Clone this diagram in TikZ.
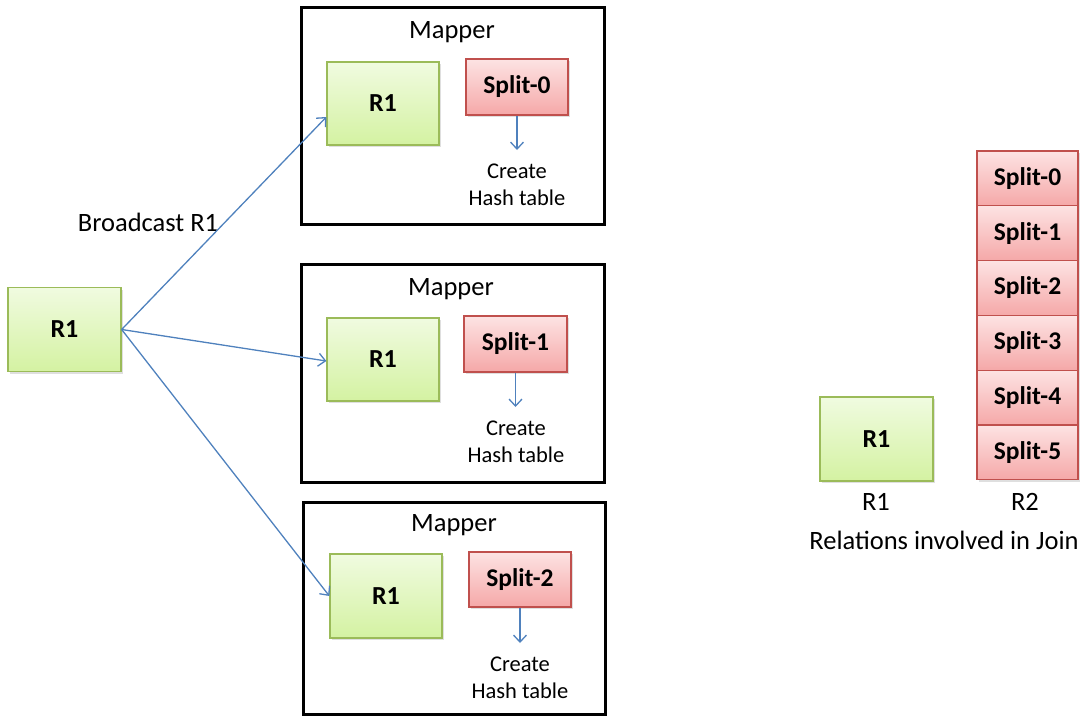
\documentclass[tikz,border=0pt]{standalone}
\usepackage{fontspec}
\setmainfont{Carlito}
\usetikzlibrary{arrows.meta,shadows,positioning}
\definecolor{gborder}{HTML}{9BBB59}
\definecolor{gtop}{HTML}{F0FBE0}
\definecolor{gbot}{HTML}{D4F2A2}
\definecolor{rborder}{HTML}{C0504D}
\definecolor{rtop}{HTML}{FDE3E3}
\definecolor{rbot}{HTML}{F5A8A8}
\definecolor{ablue}{HTML}{4F81BD}
\tikzset{
  x=1pt, y=-1pt,
  greenbox/.style={draw=gborder, line width=1.3pt, top color=gtop, bottom color=gbot,
    font=\bfseries\fontsize{26}{28}\selectfont, inner sep=0pt,
    drop shadow={shadow xshift=1.5pt, shadow yshift=-2pt, opacity=0.25}},
  redbox/.style={draw=rborder, line width=1.3pt, top color=rtop, bottom color=rbot,
    font=\bfseries\fontsize{25.5}{27}\selectfont, inner sep=0pt,
    drop shadow={shadow xshift=1.5pt, shadow yshift=-2pt, opacity=0.25}},
  mapperbox/.style={draw=black, line width=3pt},
  lbl/.style={font=\fontsize{26.5}{28}\selectfont, inner sep=0pt},
  small/.style={font=\fontsize{22.5}{27}\selectfont, align=center, inner sep=0pt},
  conn/.style={draw=ablue, line width=1.3pt, -{Straight Barb[length=7pt,width=13pt,line width=1.3pt]}},
}
\begin{document}
\begin{tikzpicture}
\useasboundingbox (0,0) rectangle (1086,717);
% left source
\node[greenbox, minimum width=113pt, minimum height=84pt] (src) at (64.5,329.5) {R1};
\node[lbl] (bc) at (148,222) {Broadcast R1};

% mapper 1
\node[mapperbox, minimum width=303pt, minimum height=216pt] (m1) at (452.5,116) {};
\node[lbl] (m1t) at (452,32) {Mapper};
\node[greenbox, minimum width=112pt, minimum height=83pt] (r1a) at (383,103.5) {R1};
\node[redbox, minimum width=102pt, minimum height=56pt] (s0) at (517,87) {Split-0};
\node[small] (h1) at (517,184.5) {Create\\Hash table};
\coordinate (h1n) at (517,150);
\draw[conn] (s0.south) -- (h1n);

% mapper 2
\node[mapperbox, minimum width=303pt, minimum height=218pt] (m2) at (452.5,373) {};
\node[lbl] (m2t) at (451,289) {Mapper};
\node[greenbox, minimum width=112pt, minimum height=83pt] (r1b) at (383,359.5) {R1};
\node[redbox, minimum width=103pt, minimum height=56pt] (s1) at (515.5,344) {Split-1};
\node[small] (h2) at (516,441.5) {Create\\Hash table};
\coordinate (h2n) at (515.5,407);
\draw[conn] (s1.south) -- (h2n);

% mapper 3
\node[mapperbox, minimum width=302pt, minimum height=212pt] (m3) at (454,608) {};
\node[lbl] (m3t) at (454,525) {Mapper};
\node[greenbox, minimum width=112pt, minimum height=84pt] (r1c) at (386,596) {R1};
\node[redbox, minimum width=102pt, minimum height=55pt] (s2) at (520,579.5) {Split-2};
\node[small] (h3) at (520,678) {Create\\Hash table};
\coordinate (h3n) at (520,643);
\draw[conn] (s2.south) -- (h3n);

% broadcast arrows
\draw[conn] (src.east) -- ([yshift=-13.5pt]r1a.west);
\draw[conn] (src.east) -- ([yshift=-1.5pt]r1b.west);
\draw[conn] (src.east) -- (r1c.west);

% right side: relations
\node[greenbox, minimum width=113pt, minimum height=84pt] (rr1) at (876.5,439) {R1};
\node[lbl] (rr1l) at (876,502) {R1};
\foreach \i in {0,...,5} {
  \node[redbox, minimum width=101pt, minimum height=54.8pt] (t\i) at (1027.5,{178.4+54.8*\i}) {Split-\i};
}
\node[lbl] (r2l) at (1025,502) {R2};
\node[lbl] (rel) at (944,540) {Relations involved in Join};
\end{tikzpicture}
\end{document}
